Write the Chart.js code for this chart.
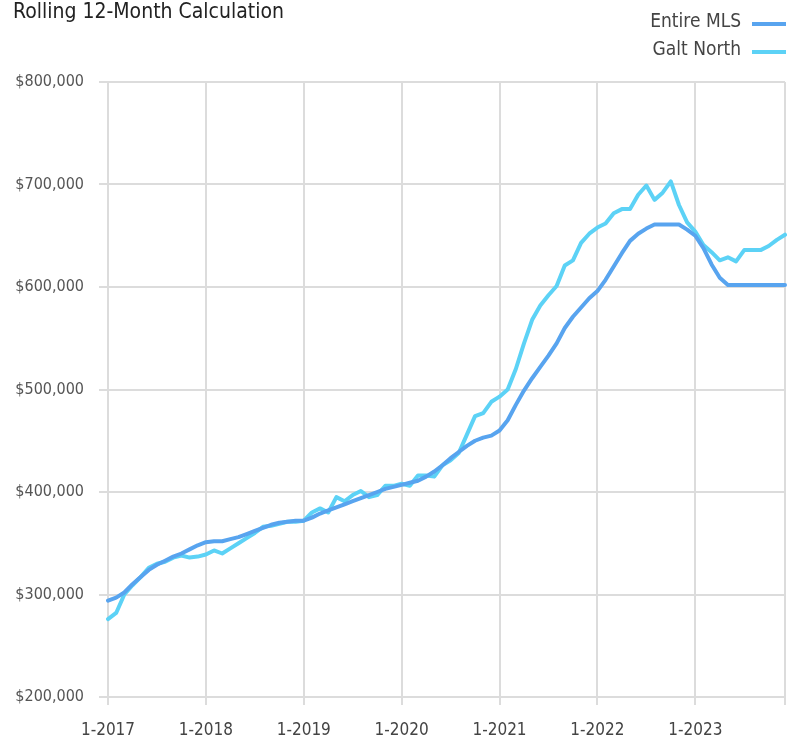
<!DOCTYPE html>
<html>
<head>
<meta charset="utf-8">
<title>Rolling 12-Month Calculation</title>
<script src="https://cdn.jsdelivr.net/npm/chart.js@4"></script>
<style>
  html, body { margin: 0; padding: 0; background: #fff; }
  #wrap { width: 794px; height: 741px; }
</style>
</head>
<body>
<div id="wrap"><canvas id="priceChart" width="794" height="741"></canvas></div>
<script>
// Données (en milliers de $), mensuelles 1-2017 -> 12-2023
const years = [2017, 2018, 2019, 2020, 2021, 2022, 2023];
const months = [];
years.forEach(y => { for (let m = 1; m <= 12; m++) months.push(m + '-' + y); });

const entireMls = [
  294, 297, 302, 310, 317, 324, 329, 333, 337, 340, 344, 348,
  351, 352, 352, 354, 356, 359, 362, 365, 368, 370, 371, 372,
  372, 375, 379, 382, 385, 388, 391, 394, 397, 400, 403, 405,
  407, 409, 411, 415, 420, 426, 433, 439, 445, 450, 453, 455,
  460, 470, 485, 499, 511, 522, 533, 545, 560, 571, 580, 589,
  596, 607, 620, 633, 645, 652, 657, 661, 661, 661, 661, 656,
  650, 638, 622, 609, 602, 602, 602, 602, 602, 602, 602, 602
];

const galtNorth = [
  276, 282, 300, 309, 317, 326, 330, 332, 336, 338, 336, 337,
  339, 343, 340, 345, 350, 355, 360, 366, 367, 369, 371, 371,
  372, 380, 384, 380, 395, 391, 397, 401, 395, 397, 406, 406,
  408, 406, 416, 416, 415, 426, 431, 438, 456, 474, 477, 488,
  493, 500, 520, 545, 568, 582, 592, 601, 621, 626, 643, 652,
  658, 662, 672, 676, 676, 690, 699, 685, 692, 703, 680, 663,
  654, 641, 634, 626, 629, 625, 636, 636, 636, 640, 646, 651
];

const seriesNames = ['Entire MLS', 'Galt North'];
const seriesColors = ['#58a4ef', '#5cd2f6'];
const yTicks = [200, 300, 400, 500, 600, 700, 800];
const chartTitle = 'Rolling 12-Month Calculation';

const FONT = "'Liberation Sans Narrow', 'DejaVu Sans Condensed', 'Roboto', sans-serif";
const GRID = '#dcdcdc';

// Titre + légende dessinés à la main (texte à gauche, trait à droite)
const headerPlugin = {
  id: 'header',
  afterDraw(chart) {
    const ctx = chart.ctx;
    ctx.save();
    ctx.fillStyle = '#222';
    ctx.font = '21px ' + FONT;
    ctx.textAlign = 'left';
    ctx.textBaseline = 'alphabetic';
    ctx.fillText(chartTitle, 13, 18);

    ctx.font = '19px ' + FONT;
    ctx.textAlign = 'right';
    ctx.textBaseline = 'middle';
    chart.data.datasets.forEach((ds, i) => {
      const y = 22 + i * 28;
      ctx.fillStyle = '#444';
      ctx.fillText(ds.label, 741, y);
      ctx.strokeStyle = ds.borderColor;
      ctx.lineWidth = 4;
      ctx.beginPath();
      ctx.moveTo(752, y + 2);
      ctx.lineTo(786, y + 2);
      ctx.stroke();
    });
    ctx.restore();
  }
};

function initChart() {
  const ctx = document.getElementById('priceChart').getContext('2d');

  new Chart(ctx, {
    type: 'line',
    data: {
      labels: months,
      datasets: [
        { label: seriesNames[0], data: entireMls, borderColor: seriesColors[0] },
        { label: seriesNames[1], data: galtNorth, borderColor: seriesColors[1] }
      ].map(d => Object.assign(d, {
        borderWidth: 4,
        pointRadius: 0,
        tension: 0,
        fill: false,
        borderJoinStyle: 'round',
        borderCapStyle: 'round'
      }))
    },
    options: {
      responsive: false,
      animation: false,
      layout: { padding: { top: 82, right: 9, left: 0, bottom: 0 } },
      plugins: {
        legend: { display: false },
        title: { display: false },
        tooltip: { enabled: false }
      },
      scales: {
        x: {
          type: 'category',
          offset: false,
          afterFit: s => { s.height = 44; s.paddingLeft = 0; s.paddingRight = 0; },
          border: { display: false },
          grid: {
            color: c => (c.index % 12 === 0 || c.index === months.length - 1) ? GRID : 'transparent',
            lineWidth: 2,
            tickLength: 8
          },
          ticks: {
            autoSkip: false,
            maxRotation: 0,
            minRotation: 0,
            padding: 15,
            color: '#444',
            font: { family: FONT, size: 17 },
            callback: (v, i) => (i % 12 === 0 ? months[i] : '')
          }
        },
        y: {
          min: yTicks[0],
          max: yTicks[yTicks.length - 1],
          afterFit: s => { s.width = 108; },
          afterBuildTicks: s => { s.ticks = yTicks.map(v => ({ value: v })); },
          border: { display: false },
          grid: { color: GRID, lineWidth: 2, tickLength: 9 },
          ticks: {
            padding: 15,
            color: '#555',
            font: { family: FONT, size: 16 },
            callback: v => '$' + (v * 1000).toLocaleString('en-US')
          }
        }
      }
    },
    plugins: [headerPlugin]
  });
}

document.addEventListener('DOMContentLoaded', initChart);
</script>
</body>
</html>
